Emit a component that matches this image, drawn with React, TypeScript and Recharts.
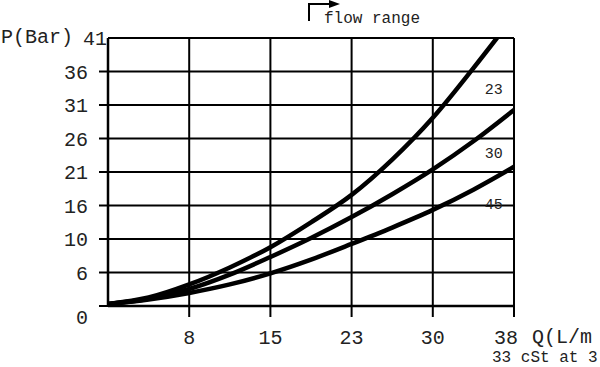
import { LineChart, Line, XAxis, YAxis, CartesianGrid, ReferenceDot } from "recharts";

// flow Q (L/min) and pressure drop P (bar) per viscosity curve
const Q_FULL = [0, 3.8, 7.6, 11.4, 15.2, 19, 22.8, 26.6, 30.4, 34.2, 38];
const Q_23 = [0, 3.8, 7.6, 11.4, 15.2, 19, 22.8, 26.6, 30.4, 34.2, 36.4];
const P_23 = [0.3, 1.3, 3.3, 5.9, 9.0, 12.8, 17.0, 22.4, 28.8, 36.4, 41];
const P_30 = [0.3, 1.1, 2.6, 4.8, 7.5, 10.4, 13.6, 17.1, 20.9, 25.2, 30.0];
const P_45 = [0.3, 1.0, 2.0, 3.3, 5.0, 7.1, 9.5, 12.0, 14.7, 17.8, 21.3];

const X_TICKS = [7.6, 15.2, 22.8, 30.4, 38];
const X_LABELS = ["8", "15", "23", "30", "38"];
const Y_TICKS = [0, 5.125, 10.25, 15.375, 20.5, 25.625, 30.75, 35.875, 41];
const Y_LABELS = ["0", "6", "10", "16", "21", "26", "31", "36", "41"];

const CURVE_LABELS = [
  { name: "23", q: 36.1, p: 33.2 },
  { name: "30", q: 36.1, p: 23.4 },
  { name: "45", q: 36.1, p: 15.6 },
];

const FONT = "'Liberation Mono', 'DejaVu Sans Mono', monospace";
const INK = "#000";
const TEXT = "#222";

const toRows = (qs: number[], ps: number[]) => qs.map((q, i) => ({ q, p: ps[i] }));

function YTick(props: any) {
  const { x, y, index } = props;
  const last = index === Y_LABELS.length - 1;
  return (
    <g>
      {!last && <line x1={x + 11} x2={x + 20} y1={y} y2={y} stroke={INK} strokeWidth={2} />}
      <text
        x={last ? x + 19 : x}
        y={index === 0 ? y + 11 : y}
        dy="0.35em"
        textAnchor="end"
        fontFamily={FONT}
        fontSize={20}
        fill={TEXT}
      >
        {Y_LABELS[index]}
      </text>
    </g>
  );
}

function XTick(props: any) {
  const { x, y, index } = props;
  const last = index === X_LABELS.length - 1;
  return (
    <text
      x={last ? x - 8 : x}
      y={y}
      dy={14}
      textAnchor="middle"
      fontFamily={FONT}
      fontSize={20}
      fill={TEXT}
    >
      {X_LABELS[index]}
    </text>
  );
}

export default function App() {
  return (
    <div style={{ position: "relative", width: 600, height: 367, background: "#fff" }}>
      <style>{`body{margin:0}`}</style>
      <LineChart width={600} height={367} margin={{ top: 38, right: 86, left: 0, bottom: 0 }}>
        <CartesianGrid stroke={INK} strokeWidth={2} />
        <XAxis
          type="number"
          dataKey="q"
          domain={[0, 38]}
          ticks={X_TICKS}
          height={61}
          tickSize={11}
          tickMargin={13}
          tickLine={{ stroke: INK, strokeWidth: 2 }}
          axisLine={{ stroke: INK, strokeWidth: 2.5 }}
          tick={<XTick />}
          allowDataOverflow
        />
        <YAxis
          type="number"
          domain={[0, 41]}
          ticks={Y_TICKS}
          width={108}
          tickSize={9}
          tickMargin={11}
          tickLine={false}
          axisLine={{ stroke: INK, strokeWidth: 2.5 }}
          tick={<YTick />}
          allowDataOverflow
        />
        {[
          { key: "23", qs: Q_23, ps: P_23 },
          { key: "30", qs: Q_FULL, ps: P_30 },
          { key: "45", qs: Q_FULL, ps: P_45 },
        ].map((s) => (
          <Line
            key={s.key}
            data={toRows(s.qs, s.ps)}
            dataKey="p"
            type="monotone"
            stroke={INK}
            strokeWidth={4.5}
            strokeLinecap="round"
            dot={false}
            activeDot={false}
            isAnimationActive={false}
          />
        ))}
        {CURVE_LABELS.map((c) => (
          <ReferenceDot
            key={c.name}
            x={c.q}
            y={c.p}
            r={0}
            stroke="none"
            fill="none"
            label={{ value: c.name, position: "center", fontFamily: FONT, fontSize: 15, fill: TEXT }}
          />
        ))}
      </LineChart>

      {/* annotations outside the plot */}
      <div style={{ position: "absolute", left: 1, top: 27, fontFamily: FONT, fontSize: 20, color: TEXT, lineHeight: "22px" }}>
        P(Bar)
      </div>
      <div style={{ position: "absolute", left: 532, top: 327, fontFamily: FONT, fontSize: 20, color: TEXT, lineHeight: "22px", whiteSpace: "nowrap" }}>
        Q(L/m
      </div>
      <div style={{ position: "absolute", left: 492, top: 349, fontFamily: FONT, fontSize: 16, color: TEXT, lineHeight: "18px", whiteSpace: "nowrap" }}>
        33 cSt at 3
      </div>
      <div style={{ position: "absolute", left: 324, top: 10, fontFamily: FONT, fontSize: 16, color: TEXT, lineHeight: "18px", whiteSpace: "nowrap" }}>
        flow range
      </div>
      <svg width={40} height={24} style={{ position: "absolute", left: 300, top: 0 }}>
        <path d="M9 21 V4 H30" stroke={INK} strokeWidth={2} fill="none" />
        <path d="M29 0 L40 4 L29 8 Z" fill={INK} />
      </svg>
    </div>
  );
}
